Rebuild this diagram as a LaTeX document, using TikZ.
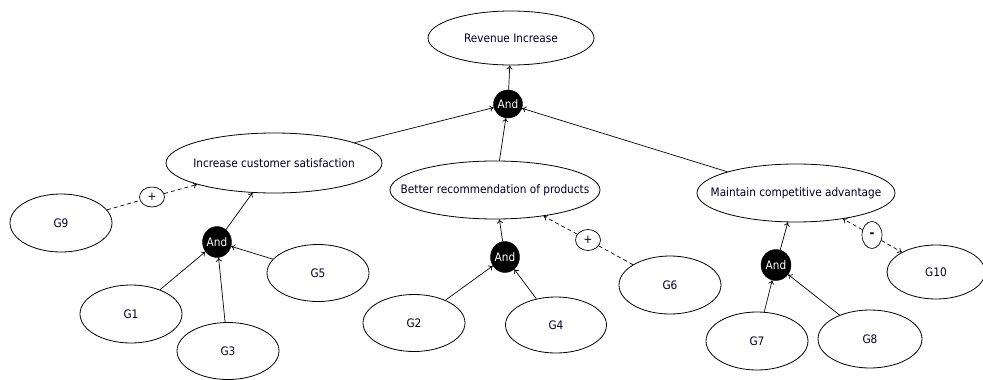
\documentclass[tikz,border=0pt]{standalone}
\usepackage{fontspec}
\setmainfont{DejaVu Sans Condensed}
\usetikzlibrary{shapes.geometric,arrows.meta}
\newcommand\zb[1]{\makebox[0pt]{#1}}
\begin{document}
\begin{tikzpicture}[x=1pt,y=-1pt,
  goal/.style={ellipse,draw=black,line width=0.8pt,inner sep=0pt,text=black!85!blue,font=\fontsize{11.7}{13}\selectfont},
  andnode/.style={ellipse,draw=black,fill=black,inner sep=0pt,text=white,font=\fontsize{11.7}{13}\selectfont,minimum width=29pt,minimum height=31pt},
  contrib/.style={ellipse,draw=black,line width=0.7pt,inner sep=0pt,font=\fontsize{11.7}{13}\selectfont},
  link/.style={line width=0.7pt,-{To[length=4pt,width=6pt]}},
  plain/.style={line width=0.7pt},
  dlink/.style={link,dash pattern=on 4pt off 3pt},
  dplain/.style={plain,dash pattern=on 4pt off 3pt}
]
\useasboundingbox (0,0) rectangle (983,380);

% goals
\node[goal,minimum width=166pt,minimum height=54pt] (rev) at (511,38) {\zb{Revenue Increase}};
\node[goal,minimum width=216pt,minimum height=60pt] (ics) at (274,163) {\zb{Increase customer satisfaction}};
\node[goal,minimum width=210pt,minimum height=58pt] (brp) at (495,190) {\zb{Better recommendation of products}};
\node[goal,minimum width=198pt,minimum height=58pt] (mca) at (796,193) {\zb{Maintain competitive advantage}};

\node[goal,minimum width=102pt,minimum height=58pt] (g9) at (61,223) {\zb{G9}};
\node[goal,minimum width=102pt,minimum height=57pt] (g5) at (318,273) {\zb{G5}};
\node[goal,minimum width=102pt,minimum height=58pt] (g1) at (131,314) {\zb{G1}};
\node[goal,minimum width=102pt,minimum height=57pt] (g3) at (228,351) {\zb{G3}};
\node[goal,minimum width=102pt,minimum height=58pt] (g6) at (670,285) {\zb{G6}};
\node[goal,minimum width=102pt,minimum height=57pt] (g2) at (414,323) {\zb{G2}};
\node[goal,minimum width=101pt,minimum height=56pt] (g4) at (556,325) {\zb{G4}};
\node[goal,minimum width=98pt,minimum height=54pt] (g10) at (936,272) {\zb{G10}};
\node[goal,minimum width=102pt,minimum height=58pt] (g7) at (757,341) {\zb{G7}};
\node[goal,minimum width=104pt,minimum height=58pt] (g8) at (870,339) {\zb{G8}};

% and nodes
\node[andnode,minimum height=28pt] (and0) at (508,104) {\zb{And}};
\node[andnode] (and1) at (217,242) {\zb{And}};
\node[andnode] (and2) at (505,257) {\zb{And}};
\node[andnode,minimum width=30pt] (and3) at (776,265) {\zb{And}};

% contribution labels
\node[contrib,minimum width=25pt,minimum height=20pt] (p1) at (152,197) {\zb{+}};
\node[contrib,minimum width=25pt,minimum height=21pt] (p2) at (588,240) {\zb{+}};
\node[contrib,minimum width=20pt,minimum height=27pt,font=\fontsize{13}{13}\selectfont\bfseries] (m1) at (872,235) {\zb{-}};

% connectors
\draw[link] (and0) -- (rev);
\draw[link] (ics) -- (and0);
\draw[link] (brp) -- (and0);
\draw[link] (mca) -- (and0);

\draw[link] (and1) -- (ics);
\draw[link] (g1) -- (and1);
\draw[link] (g3) -- (and1);
\draw[link] (g5) -- (and1);

\draw[link] (and2) -- (brp);
\draw[link] (g2) -- (and2);
\draw[link] (g4) -- (and2);

\draw[link] (and3) -- (mca);
\draw[link] (g7) -- (and3);
\draw[link] (g8) -- (and3);

\draw[dplain] (g9) -- (p1);
\draw[dlink] (p1) -- (ics);
\draw[dplain] (g6) -- (p2);
\draw[dlink] (p2) -- (brp);
\draw[dlink] (m1) -- (mca);
\draw[dlink] (m1) -- (g10);
\end{tikzpicture}
\end{document}
